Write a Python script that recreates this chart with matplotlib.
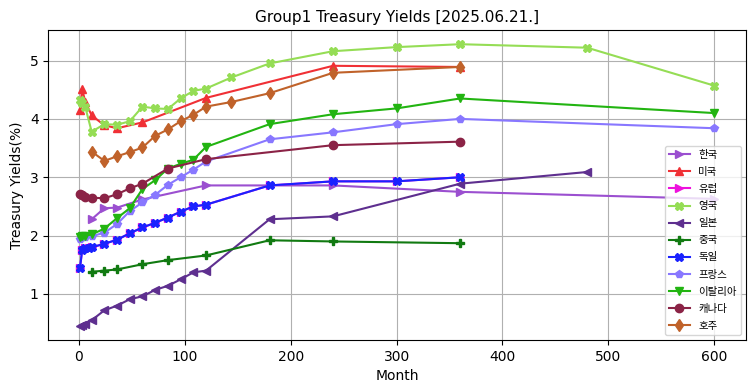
import matplotlib
matplotlib.use("Agg")
import matplotlib.pyplot as plt

plt.rcParams['font.family'] = ['DejaVu Sans']

# maturities in months and yields (%) per country
kr_m = [12, 24, 36, 60, 120, 240, 360, 600]
kr_y = [2.28, 2.47, 2.48, 2.62, 2.86, 2.86, 2.75, 2.63]

us_m = [1, 3, 6, 12, 24, 36, 60, 120, 240, 360]
us_y = [4.15, 4.51, 4.29, 4.06, 3.89, 3.84, 3.94, 4.36, 4.91, 4.89]

de_m = [1, 3, 6, 9, 12, 24, 36, 48, 60, 72, 84, 96, 108, 120, 180, 240, 300, 360]
de_y = [1.45, 1.75, 1.78, 1.79, 1.80, 1.86, 1.93, 2.04, 2.14, 2.22, 2.31, 2.41, 2.50, 2.53, 2.86, 2.93, 2.93, 3.00]

# EU curve sits right under the German one
eu_m = list(de_m)
eu_y = list(de_y)

uk_m = [1, 3, 6, 12, 24, 36, 48, 60, 72, 84, 96, 108, 120, 144, 180, 240, 300, 360, 480, 600]
uk_y = [4.33, 4.27, 4.20, 3.78, 3.91, 3.90, 3.96, 4.21, 4.18, 4.17, 4.35, 4.48, 4.52, 4.71, 4.95, 5.16, 5.23, 5.28, 5.22, 4.57]

jp_m = [1, 3, 6, 12, 24, 36, 48, 60, 72, 84, 96, 108, 120, 180, 240, 360, 480]
jp_y = [0.45, 0.46, 0.49, 0.55, 0.72, 0.80, 0.91, 0.96, 1.07, 1.14, 1.25, 1.37, 1.40, 2.28, 2.33, 2.89, 3.09]

cn_m = [12, 24, 36, 60, 84, 120, 180, 240, 360]
cn_y = [1.38, 1.40, 1.42, 1.51, 1.58, 1.66, 1.92, 1.90, 1.87]

fr_m = [1, 3, 6, 12, 24, 36, 48, 60, 72, 84, 96, 108, 120, 180, 240, 300, 360, 600]
fr_y = [1.95, 1.97, 1.98, 1.99, 2.05, 2.20, 2.42, 2.57, 2.70, 2.87, 3.00, 3.13, 3.27, 3.65, 3.77, 3.91, 4.00, 3.84]

it_m = [1, 3, 6, 12, 24, 36, 48, 60, 72, 84, 96, 108, 120, 180, 240, 300, 360, 600]
it_y = [1.98, 2.00, 2.00, 2.02, 2.12, 2.30, 2.47, 2.80, 2.95, 3.15, 3.23, 3.30, 3.52, 3.91, 4.08, 4.18, 4.35, 4.10]

ca_m = [1, 3, 6, 12, 24, 36, 48, 60, 84, 120, 240, 360]
ca_y = [2.71, 2.70, 2.66, 2.65, 2.64, 2.71, 2.81, 2.89, 3.15, 3.31, 3.55, 3.61]

au_m = [12, 24, 36, 48, 60, 72, 84, 96, 108, 120, 144, 180, 240, 360]
au_y = [3.44, 3.28, 3.36, 3.43, 3.51, 3.71, 3.82, 3.96, 4.07, 4.21, 4.29, 4.44, 4.79, 4.89]

series = [
    ("한국", kr_m, kr_y, "#9b4fd0", ">"),
    ("미국", us_m, us_y, "#f03035", "^"),
    ("유럽", eu_m, eu_y, "#ee11dd", ">"),
    ("영국", uk_m, uk_y, "#95dd55", "X"),
    ("일본", jp_m, jp_y, "#5e2f8f", "<"),
    ("중국", cn_m, cn_y, "#117a11", "P"),
    ("독일", de_m, de_y, "#1a22ff", "X"),
    ("프랑스", fr_m, fr_y, "#8877ff", "p"),
    ("이탈리아", it_m, it_y, "#22b411", "v"),
    ("캐나다", ca_m, ca_y, "#8b2346", "o"),
    ("호주", au_m, au_y, "#c0622a", "d"),
]


def main():
    fig = plt.figure(figsize=(7.55, 3.91), dpi=100)
    ax = fig.add_axes([0.064, 0.130, 0.924, 0.793])

    for name, m, y, color, marker in series:
        ax.plot(m, y, color=color, marker=marker, markersize=6, linewidth=1.5, label=name)

    ax.set_title("Group1 Treasury Yields [2025.06.21.]", fontsize=11)
    ax.set_xlabel("Month")
    ax.set_ylabel("Treasury Yields(%)")
    ax.grid(True, color="#b0b0b0")
    ax.legend(loc="lower right", prop={"family": ["Noto Sans CJK KR", "DejaVu Sans"], "size": 7.5},
              labelspacing=0.68)

    fig.savefig("out.png", dpi=100)


if __name__ == "__main__":
    main()
